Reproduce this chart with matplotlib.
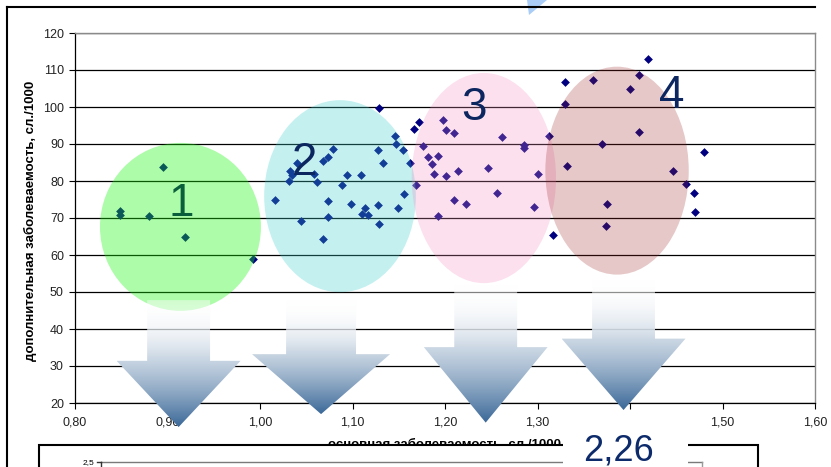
import numpy as np
import matplotlib
matplotlib.use("Agg")
import matplotlib.pyplot as plt
from matplotlib.patches import Ellipse, Polygon, Rectangle
from matplotlib.lines import Line2D

plt.rcParams['font.family'] = ['Liberation Sans', 'DejaVu Sans']

# --- data -------------------------------------------------------------
x_vals = [
    0.895, 0.849, 0.849, 0.880, 0.919, 0.992,
    1.129, 1.146, 1.147, 1.155, 1.128, 1.133, 1.162, 1.079, 1.074, 1.068,
    1.040, 1.032, 1.035, 1.031, 1.058, 1.062, 1.094, 1.109, 1.089, 1.016,
    1.073, 1.098, 1.114, 1.128, 1.156, 1.149, 1.110, 1.117, 1.073, 1.044,
    1.129, 1.068,
    1.166, 1.172, 1.169,
    1.198, 1.201, 1.210, 1.176, 1.182, 1.192, 1.186, 1.188, 1.201, 1.214,
    1.246, 1.262, 1.285, 1.285, 1.312, 1.300, 1.256, 1.210, 1.223, 1.296,
    1.192, 1.317,
    1.420, 1.410, 1.400, 1.360, 1.330, 1.330, 1.410, 1.370, 1.332, 1.480,
    1.447, 1.460, 1.469, 1.470, 1.375, 1.374,
]
y_vals = [
    83.9, 72.0, 70.7, 70.5, 64.9, 58.9,
    99.8, 92.2, 89.9, 88.3, 88.3, 84.9, 84.9, 88.6, 86.6, 85.5,
    84.9, 82.8, 81.6, 79.9, 81.9, 79.6, 81.6, 81.6, 78.8, 74.9,
    74.6, 73.9, 72.7, 73.6, 76.6, 72.7, 71.1, 70.9, 70.2, 69.1,
    68.3, 64.3,
    94.1, 96.0, 78.8,
    96.5, 93.8, 93.0, 89.4, 86.6, 86.8, 84.6, 81.8, 81.3, 82.7,
    83.5, 91.8, 89.7, 89.0, 92.1, 81.8, 76.8, 74.9, 73.8, 73.0,
    70.5, 65.5,
    112.9, 108.7, 104.8, 107.3, 106.8, 100.7, 93.2, 90.1, 84.1, 87.9,
    82.6, 79.1, 76.8, 71.5, 73.8, 67.8,
]

group_labels = ['1', '2', '3', '4']
group_centers_x = [0.914, 1.0865, 1.242, 1.386]
group_centers_y = [67.6, 75.9, 80.8, 82.8]
group_widths = [0.174, 0.164, 0.156, 0.155]
group_heights = [45.4, 51.9, 56.8, 56.2]
group_colors = [(28/255, 247/255, 17/255, 0.36),
                (63/255, 207/255, 207/255, 0.30),
                (244/255, 141/255, 193/255, 0.27),
                (156/255, 36/255, 36/255, 0.25)]
label_x = [0.915, 1.0476, 1.231, 1.4454]
label_y = [73.8, 84.9, 99.6, 103.1]
label_colors = ['#0b5e3c', '#0c2660', '#0c2660', '#0c2660']

x_ticks = [0.80, 0.90, 1.00, 1.10, 1.20, 1.30, 1.40, 1.50, 1.60]
x_tick_labels = ['0,80', '0,90', '1,00', '1,10', '1,20', '1,30', '1,40', '1,50', '1,60']
y_ticks = [20, 30, 40, 50, 60, 70, 80, 90, 100, 110, 120]

# down arrows under each group: centre x, tip y, head base y, shaft top y,
# head half-width, shaft half-width (data units)
arrow_cx = [0.912, 1.066, 1.244, 1.393]
arrow_tip = [13.5, 17.0, 14.7, 18.1]
arrow_base = [31.4, 33.2, 35.1, 37.4]
arrow_top = [47.8, 47.8, 51.9, 53.2]
arrow_head_hw = [0.067, 0.0746, 0.0669, 0.067]
arrow_shaft_hw = [0.034, 0.0378, 0.034, 0.034]

highlight_value = '2,26'

# --- figure -----------------------------------------------------------
W, H = 831, 467
fig = plt.figure(figsize=(W / 100, H / 100), dpi=100)
fig.patch.set_facecolor('white')


def fx(px):
    return px / W


def fy(py):
    return 1 - py / H


ax = fig.add_axes([fx(75), fy(403), 740 / W, 370 / H])
ax.set_facecolor('none')

ax.scatter(x_vals, y_vals, marker='D', s=20, color='#000080',
           linewidths=0, zorder=2)

for cx, cy, w, h, c in zip(group_centers_x, group_centers_y, group_widths,
                           group_heights, group_colors):
    ax.add_patch(Ellipse((cx, cy), w, h, facecolor=c, edgecolor='none',
                         zorder=3))

for t, tx, ty, tc in zip(group_labels, label_x, label_y, label_colors):
    ax.text(tx, ty, t, fontsize=33, color=tc, ha='center', va='center',
            zorder=5)

# gradient-filled arrows
blue = np.array([58, 104, 152]) / 255.0
n = 256
t = np.linspace(0, 1, n)
g = t ** 1.7
rgba = np.zeros((n, 1, 4))
rgba[:, 0, :3] = (1 - g)[:, None] * 1.0 + g[:, None] * blue
rgba[:, 0, 3] = np.clip(0.45 + 1.2 * t, 0, 1)
for cx, tip, base, top, hw, sw in zip(arrow_cx, arrow_tip, arrow_base,
                                      arrow_top, arrow_head_hw, arrow_shaft_hw):
    verts = [(cx - sw, top), (cx + sw, top), (cx + sw, base), (cx + hw, base),
             (cx, tip), (cx - hw, base), (cx - sw, base)]
    poly = Polygon(verts, closed=True, facecolor='none', edgecolor='none',
                   transform=ax.transData, clip_on=False)
    ax.add_patch(poly)
    im = ax.imshow(rgba, extent=(cx - hw, cx + hw, tip, top), origin='upper',
                   aspect='auto', interpolation='bilinear', zorder=4)
    im.set_clip_path(poly)
    im.set_clip_box(fig.bbox)

ax.set_xlim(0.80, 1.60)
ax.set_ylim(20, 120)
ax.set_xticks(x_ticks)
ax.set_xticklabels(x_tick_labels)
ax.set_yticks(y_ticks)
ax.set_yticklabels([str(v) for v in y_ticks])
ax.tick_params(axis='both', direction='out', length=4, width=0.8,
               labelsize=9, labelcolor='#222222')
ax.tick_params(axis='x', pad=6)
ax.tick_params(axis='y', pad=4)
ax.yaxis.grid(True, color='black', linewidth=0.9, zorder=1)
ax.set_axisbelow(True)
for side in ('left', 'bottom'):
    ax.spines[side].set_color('black')
    ax.spines[side].set_linewidth(0.9)
for side in ('top', 'right'):
    ax.spines[side].set_color('#8a8a8a')
    ax.spines[side].set_linewidth(1.0)

fig.text(fx(30), fy(221), 'дополнительная заболеваемость, сл./1000',
         rotation=90, fontsize=9.5, fontweight='bold', ha='center',
         va='center')
fig.text(fx(445), fy(438.5), 'основная заболеваемость, сл./1000',
         fontsize=9.5, fontweight='bold', ha='center', va='top', zorder=1.5)

# outer frame of the chart area
fig.add_artist(Line2D([fx(7), fx(7)], [fy(7), fy(470)], color='black',
                      linewidth=1.5))
fig.add_artist(Line2D([fx(7), fx(815)], [fy(7), fy(7)], color='black',
                      linewidth=1.5))

# lower chart panel
fig.add_artist(Rectangle((fx(39), fy(480)), (758 - 39) / W, (480 - 445) / H,
                         facecolor='white', edgecolor='black', linewidth=1.5,
                         zorder=2))
fig.add_artist(Line2D([fx(101), fx(702)], [fy(461.5), fy(461.5)],
                      color='#7a7a7a', linewidth=1.0, zorder=2.2))
fig.add_artist(Line2D([fx(101), fx(101)], [fy(461.5), fy(470)],
                      color='#333333', linewidth=1.0, zorder=2.2))
fig.add_artist(Line2D([fx(96.5), fx(101)], [fy(461.5), fy(461.5)],
                      color='#333333', linewidth=1.0, zorder=2.2))
fig.add_artist(Line2D([fx(702), fx(702)], [fy(461.5), fy(470)],
                      color='#9a9a9a', linewidth=1.0, zorder=2.2))
fig.text(fx(94), fy(462.5), '2,5', fontsize=6, ha='right', va='center',
         zorder=2.3)

# value callout
fig.add_artist(Rectangle((fx(563), fy(480)), (688 - 563) / W, (480 - 412) / H,
                         facecolor='white', edgecolor='none', zorder=2.5))
fig.text(fx(618.5), fy(451), highlight_value, fontsize=26, color='#0d2b6b',
         ha='center', va='center', zorder=2.6)

# sliver of a neighbouring shape at the top edge
fig.add_artist(Polygon([(fx(527), fy(0)), (fx(547), fy(0)), (fx(529), fy(15))],
                       closed=True, facecolor='#a9cdf7', edgecolor='none'))

fig.savefig('out.png', dpi=100)
